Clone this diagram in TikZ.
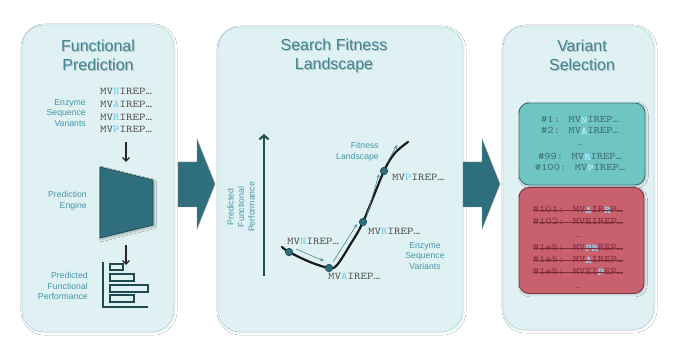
\documentclass[tikz,border=0pt]{standalone}
\usepackage{fontspec}
\setmainfont{Liberation Sans}
\newfontfamily\seqfont[FakeStretch=1.2]{lmmono10-regular.otf}
\newfontfamily\seqbold[FakeStretch=1.2,FakeBold=2.5]{lmmono10-regular.otf}
\usetikzlibrary{arrows.meta,calc,shadows.blur}
\definecolor{panelfill}{HTML}{DFF1F2}
\definecolor{panelline}{HTML}{B7DCDF}
\definecolor{titlecol}{HTML}{3E8493}
\definecolor{labelcol}{HTML}{4797AA}
\definecolor{tealdark}{HTML}{2F6E7C}
\definecolor{tealline}{HTML}{1F4A52}
\definecolor{seqgray}{HTML}{505050}
\definecolor{hlblue}{HTML}{6CC5E6}
\definecolor{hlbright}{HTML}{A6E6FA}
\definecolor{hlred}{HTML}{86D0F0}
\definecolor{greenfill}{HTML}{6FC4C4}
\definecolor{greenline}{HTML}{3D7272}
\definecolor{greentext}{HTML}{3E6A6E}
\definecolor{redfill}{HTML}{C8606E}
\definecolor{redline}{HTML}{7C3341}
\definecolor{redtext}{HTML}{7E2C3A}
\definecolor{thinarrow}{HTML}{4F8E9C}
\newcommand\hl[1]{\textcolor{hlblue}{#1}}
\newcommand\hlg[1]{\textcolor{hlbright}{{\seqbold\fontsize{10}{12}\selectfont #1}}}
\newcommand\hlr[1]{\textcolor{hlred}{{\seqbold\fontsize{10}{12}\selectfont #1}}}
\begin{document}
\begin{tikzpicture}[x=1pt,y=-1pt,
  panelbox/.style={draw=panelline, fill=panelfill, line width=0.8pt, rounded corners=22pt, inner sep=0pt,
    blur shadow={shadow xshift=1pt, shadow yshift=-1pt, shadow blur steps=6, shadow opacity=6}},
  title/.style={font=\fontsize{16}{19}\selectfont, text=titlecol, align=center, inner sep=0pt},
  titleshadow/.style={title, text=black, text opacity=0.18},
  lbl/.style={font=\fontsize{8.7}{10.5}\selectfont, text=labelcol, inner sep=0pt},
  seq/.style={font=\seqfont\fontsize{10.3}{12}\selectfont, text=seqgray, inner sep=0pt},
  gseq/.style={seq, text=greentext, font=\seqfont\fontsize{10}{12}\selectfont},
  rseq/.style={seq, text=redtext, font=\seqfont\fontsize{10}{12}\selectfont},
  bigarrow/.style={fill=tealdark, draw=tealline!60, line width=0.4pt},
  darrow/.style={draw=black!85, line width=1.3pt, -{Straight Barb[length=3.5pt,width=7pt]}},
  dot/.style={circle, fill=tealdark, draw=tealline, line width=0.6pt, minimum size=7.5pt, inner sep=0pt},
  thinarr/.style={draw=thinarrow, line width=0.6pt, -{Stealth[length=4pt,width=3.2pt]}},
  bar/.style={draw=tealline, fill=panelfill, line width=1.1pt},
  strike/.style={draw=redtext, line width=0.7pt},
  selbox/.style={rounded corners=10pt, line width=0.9pt, inner sep=0pt,
    blur shadow={shadow xshift=1.2pt, shadow yshift=-1.2pt, shadow blur steps=5, shadow opacity=18}}
]
\useasboundingbox (0,0) rectangle (680,352);
\fill[white] (0,0) rectangle (680,352);

% panels
\node[panelbox, minimum width=152pt, minimum height=307pt] (p1) at (98,178.5) {};
\node[panelbox, minimum width=245pt, minimum height=305pt] (p2) at (340.5,179.5) {};
\node[panelbox, minimum width=151pt, minimum height=304pt] (p3) at (578.5,178) {};

% big arrows
\fill[bigarrow] (178,162) -- (197,162) -- (197,139) -- (215,184) -- (197,229) -- (197,207) -- (178,207) -- cycle;
\fill[bigarrow] (463,162) -- (482,162) -- (482,139) -- (500,184) -- (482,229) -- (482,207) -- (463,207) -- cycle;

% titles
\node[titleshadow] (t1s) at (99,56.5) {Functional\\Prediction};
\node[title] (t1) at (98,55.5) {Functional\\Prediction};
\node[titleshadow] (t2s) at (335,56.5) {Search Fitness\\Landscape};
\node[title] (t2) at (334,55.5) {Search Fitness\\Landscape};
\node[titleshadow] (t3s) at (583,56.5) {Variant\\Selection};
\node[title] (t3) at (582,55.5) {Variant\\Selection};

% ---------- panel 1
\node[seq, anchor=base west] (s1) at (100,95) {MV\hl{N}IREP…};
\node[seq, anchor=base west] (s2) at (100,107.6) {MV\hl{A}IREP…};
\node[seq, anchor=base west] (s3) at (100,120.2) {MV\hl{R}IREP…};
\node[seq, anchor=base west] (s4) at (100,132.8) {MV\hl{P}IREP…};
\node[lbl, anchor=east, align=right] (l1) at (86,113) {Enzyme\\Sequence\\Variants};

\coordinate (a1s) at (126,142);
\coordinate (a1e) at (126,162);
\draw[darrow] (a1s) -- (a1e);

\filldraw[fill=tealdark, draw=tealline, line width=0.7pt,
  blur shadow={shadow xshift=1.5pt, shadow yshift=-1.5pt, shadow blur steps=5, shadow opacity=30}]
  (100,167) -- (153,180) -- (153,225) -- (100,238) -- cycle;
\node[lbl, anchor=east, align=right] (l2) at (87,201) {Prediction\\Engine};

\coordinate (a2s) at (126,245);
\coordinate (a2e) at (126,265);
\draw[darrow] (a2s) -- (a2e);

\draw[bar, fill=none] (103,262) -- (103,307) -- (148,307);
\draw[bar] (110,264) rectangle (123,270);
\draw[bar] (110,274) rectangle (134,281);
\draw[bar] (110,285) rectangle (148,292);
\draw[bar] (110,295) rectangle (134,302);
\node[lbl, anchor=east, align=right] (l3) at (88,286) {Predicted\\Functional\\Performance};

% ---------- panel 2
\coordinate (ax0) at (264,276);
\coordinate (ax1) at (264,134);
\draw[draw=tealline, line width=2pt, -{Straight Barb[length=4pt,width=9pt]}] (ax0) -- (ax1);
\node[lbl, rotate=90, align=center] (l4) at (241,207) {Predicted\\Functional\\Performance};

\draw[black!90, line width=2.2pt, line cap=round]
  plot[smooth, tension=0.55] coordinates {(282,247) (289,252) (310,262) (329,268) (337,265) (350,245) (363,222) (384,171) (395,153) (408,142)};
\node[dot] (d1) at (289,252) {};
\node[dot] (d2) at (329,268) {};
\node[dot] (d3) at (363,222) {};
\node[dot] (d4) at (384,171) {};
\coordinate (cend) at (408,142);

\draw[thinarr] ($(d1)+(7,-3)$) -- ($(d2)+(-5,-7)$);
\draw[thinarr] ($(d2)+(4,-6)$) -- ($(d3)+(-6,2)$);
\draw[thinarr] ($(d3)+(4,-7)$) -- ($(d4)+(-5,3)$);
\draw[thinarr] ($(d4)+(3,-8)$) -- ($(cend)+(-11,3)$);

\node[seq, anchor=base west] (q4) at (392,181) {MV\hl{P}IREP…};
\node[seq, anchor=base west] (q3) at (368,235) {MV\hl{R}IREP…};
\node[seq, anchor=base west] (q1) at (287,245) {MV\hl{N}IREP…};
\node[seq, anchor=base west] (q2) at (328,280) {MV\hl{A}IREP…};
\node[lbl, anchor=east, align=right] (l5) at (379,152) {Fitness\\Landscape};
\node[lbl, align=center] (l6) at (425,256) {Enzyme\\Sequence\\Variants};

% ---------- panel 3
\node[selbox, draw=greenline, fill=greenfill, minimum width=126pt, minimum height=82pt] (gb) at (582,144) {};
\node[selbox, draw=redline, fill=redfill, minimum width=125pt, minimum height=106pt] (rb) at (581.5,240.5) {};

\node[gseq, anchor=base] (g1) at (580,123) {\#1: MV\hlg{N}IREP…};
\node[gseq, anchor=base] (g2) at (580,134) {\#2: MV\hlg{A}IREP…};
\node[gseq, font=\seqfont\fontsize{7}{8}\selectfont] (g3) at (580,145) {…};
\node[gseq, anchor=base] (g4) at (580,160) {\#99: MV\hlg{R}IREP…};
\node[gseq, anchor=base] (g5) at (580,171) {\#100: MV\hlg{P}IREP…};

\node[rseq, anchor=base] (r1) at (578,213) {\#101: MV\hlr{A}IR\hlr{R}P…};
\node[rseq, anchor=base] (r2) at (578,225) {\#102: MVEIREP…};
\node[rseq, font=\seqfont\fontsize{7}{8}\selectfont] (r3) at (578,237) {…};
\node[rseq, anchor=base] (r4) at (578,251) {\#1e5: MV\hlr{PR}REP…};
\node[rseq, anchor=base] (r5) at (578,263) {\#1e5: MV\hlr{A}IREP…};
\node[rseq, anchor=base] (r6) at (578,275) {\#1e5: MVEI\hlr{P}EP…};
\node[rseq, font=\seqfont\fontsize{7}{8}\selectfont] (r7) at (578,288) {…};
\foreach \r in {r1,r2,r4,r5,r6}
  \draw[strike] ($(\r.base west)+(0,-2.6)$) -- ($(\r.base east)+(0,-2.6)$);
\end{tikzpicture}
\end{document}
